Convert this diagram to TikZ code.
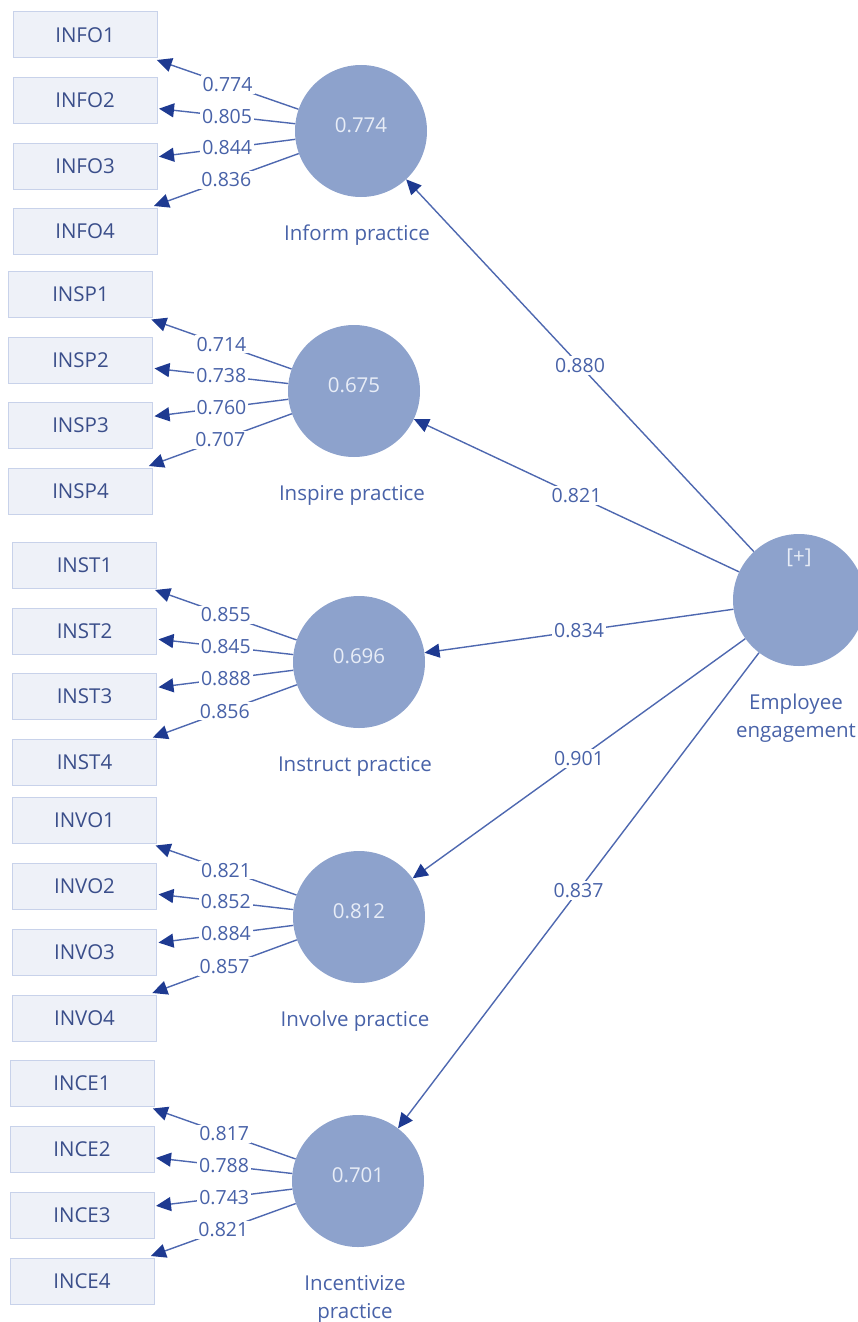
\documentclass[tikz,border=0pt]{standalone}
\usepackage{fontspec}
\setmainfont{Open Sans}
\usetikzlibrary{arrows.meta}
\definecolor{circfill}{RGB}{141,162,204}
\definecolor{boxfill}{RGB}{238,241,248}
\definecolor{boxdraw}{RGB}{200,210,234}
\definecolor{boxtxt}{RGB}{58,78,138}
\definecolor{lbl}{RGB}{72,98,168}
\definecolor{edge}{RGB}{78,104,176}
\definecolor{tip}{RGB}{30,58,145}
\definecolor{ctext}{RGB}{232,237,247}
\begin{document}
\begin{tikzpicture}[x=1pt,y=-1pt,
  ind/.style={draw=boxdraw,fill=boxfill,line width=1pt,minimum width=144pt,minimum height=46pt,inner sep=0pt,outer sep=2pt,text=boxtxt,font=\fontsize{20.5}{24}\selectfont},
  lv/.style={circle,fill=circfill,minimum size=132pt,inner sep=0pt,text=ctext,text depth=12pt,font=\fontsize{20.5}{24}\selectfont},
  lvname/.style={text=lbl,font=\fontsize{20.5}{28}\selectfont,align=center,anchor=north,inner sep=0pt},
  load/.style={draw=edge,line width=1.4pt,-{Triangle[length=15pt,width=14pt,color=tip]}},
  coef/.style={fill=white,text=lbl,font=\fontsize{19.5}{22}\selectfont,inner sep=2pt}
]
\useasboundingbox (0,0) rectangle (858,1322);

% indicator boxes
\foreach \i/\yy in {1/35,2/100.5,3/166,4/231} \node[ind] (info\i) at (85,\yy) {INFO\i};
\foreach \i/\yy in {1/294.5,2/360,3/425.5,4/491} \node[ind] (insp\i) at (80.5,\yy) {INSP\i};
\foreach \i/\yy in {1/565,2/631,3/696.5,4/762.5} \node[ind] (inst\i) at (84.5,\yy) {INST\i};
\foreach \i/\yy in {1/820.5,2/886,3/952,4/1018} \node[ind] (invo\i) at (84.5,\yy) {INVO\i};
\foreach \i/\yy in {1/1083.5,2/1149.5,3/1215,4/1281} \node[ind] (ince\i) at (82,\yy) {INCE\i};

% latent variables
\node[lv] (inform) at (361,131) {0.774};
\node[lv] (inspire) at (354,391) {0.675};
\node[lv] (instruct) at (359,662) {0.696};
\node[lv] (involve) at (359,917) {0.812};
\node[lv] (incent) at (358,1181) {0.701};
\node[lv] (ee) at (799,600) {};
\node[text=ctext,font=\fontsize{20.5}{24}\selectfont] (eeplus) at ([yshift=42pt]ee.center) {[+]};

\node[lvname] (informlbl) at ([xshift=-4pt,yshift=-94pt]inform.center) {Inform practice};
\node[lvname] (inspirelbl) at ([xshift=-2pt,yshift=-94pt]inspire.center) {Inspire practice};
\node[lvname] (instructlbl) at ([xshift=-4pt,yshift=-94pt]instruct.center) {Instruct practice};
\node[lvname] (involvelbl) at ([xshift=-4pt,yshift=-94pt]involve.center) {Involve practice};
\node[lvname] (incentlbl) at ([xshift=-3pt,yshift=-94pt]incent.center) {Incentivize\\practice};
\node[lvname] (eelbl) at ([xshift=-3pt,yshift=-94pt]ee.center) {Employee\\engagement};

% outer loadings
\foreach \i/\l in {1/0.774,2/0.805,3/0.844,4/0.836} \draw[load] (inform) -- node[coef]{\l} (info\i);
\foreach \i/\l in {1/0.714,2/0.738,3/0.760,4/0.707} \draw[load] (inspire) -- node[coef]{\l} (insp\i);
\foreach \i/\l in {1/0.855,2/0.845,3/0.888,4/0.856} \draw[load] (instruct) -- node[coef]{\l} (inst\i);
\foreach \i/\l in {1/0.821,2/0.852,3/0.884,4/0.857} \draw[load] (involve) -- node[coef]{\l} (invo\i);
\foreach \i/\l in {1/0.817,2/0.788,3/0.743,4/0.821} \draw[load] (incent) -- node[coef]{\l} (ince\i);

% structural paths
\draw[load] (ee) -- node[coef]{0.880} (inform);
\draw[load] (ee) -- node[coef]{0.821} (inspire);
\draw[load] (ee) -- node[coef]{0.834} (instruct);
\draw[load] (ee) -- node[coef]{0.901} (involve);
\draw[load] (ee) -- node[coef]{0.837} (incent);
\end{tikzpicture}
\end{document}
